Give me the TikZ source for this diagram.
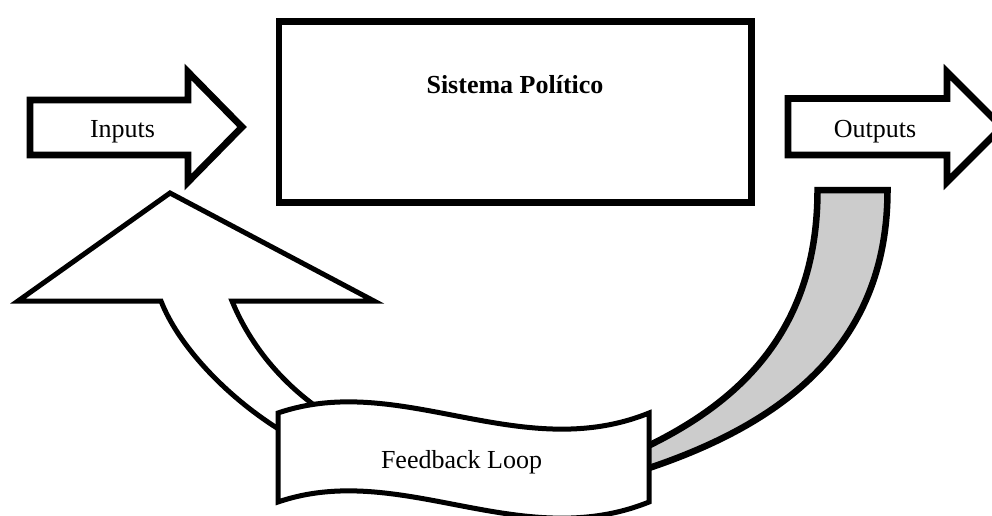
\documentclass[tikz,border=0pt]{standalone}
\usepackage{fontspec}
\setmainfont{Liberation Serif}
\begin{document}
\begin{tikzpicture}[x=1pt,y=-1pt,
  txt/.style={font=\fontsize{26}{31}\selectfont, inner sep=0pt, anchor=base},
  thick outline/.style={draw=black, fill=white, line width=6.8pt, line join=miter, miter limit=10},
  thin outline/.style={draw=black, fill=white, line width=5pt, line join=miter, miter limit=10},
  band/.style={draw=black, fill=black!20, line width=6.5pt, line join=miter}]
\useasboundingbox (0,0) rectangle (992,515);
\clip (0,0) rectangle (992,515);

% central system box
\node[thick outline, rectangle, minimum width=472.7pt, minimum height=181pt, inner sep=0pt]
  (sistema) at (515.35,112.2) {};
\node[txt, font=\fontsize{26}{31}\selectfont\bfseries] (sistematxt) at (515,93) {Sistema Político};

% input and output block arrows
\path[thick outline] (30,100) -- (188,100) -- (188,72) -- (242,127) -- (188,182) -- (188,155) -- (30,155) -- cycle;
\node[txt] (inputs) at (122.5,137) {Inputs};

\path[thick outline] (788,98.5) -- (947,98.5) -- (947,72) -- (1002,127) -- (947,182) -- (947,155) -- (788,155) -- cycle;
\node[txt] (outputs) at (875,137) {Outputs};

% grey curved band from the outputs down to the banner
\path[band] (817.5,190) -- (887.5,190)
  .. controls (887.5,340) and (790,420) .. (652,467) -- (620,478) -- (620,460) -- (652,444)
  .. controls (740,400) and (817.5,330) .. (817.5,190) -- cycle;

% curved up arrow returning to the inputs
\path[thin outline] (161,301) -- (18,301) -- (170,193) -- (374,301) -- (232,301)
  .. controls (248,340) and (275,375) .. (310,402) -- (335,421) -- (302,444) -- (277,428)
  .. controls (225,395) and (178,345) .. (161,301) -- cycle;

% wavy banner
\path[thin outline] (278,413) .. controls (400,371) and (520,465) .. (649,413)
  -- (649,502) .. controls (520,554) and (400,460) .. (278,502) -- cycle;
\node[txt] (feedback) at (461.5,468) {Feedback Loop};
\end{tikzpicture}
\end{document}
